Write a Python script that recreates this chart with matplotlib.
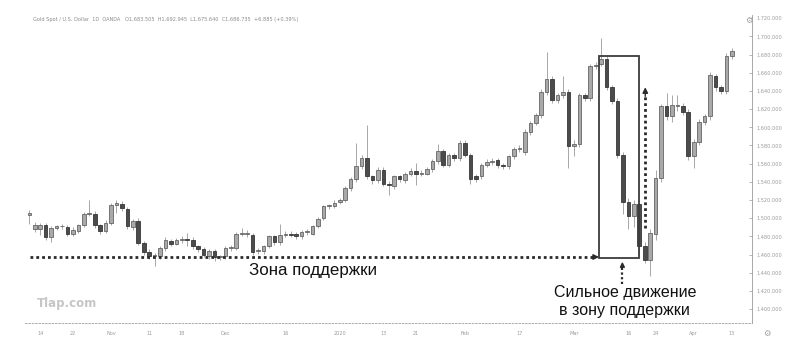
import matplotlib.pyplot as plt
from matplotlib.patches import Rectangle

# daily candles (price units)
opens = [1503, 1488, 1488, 1492, 1479, 1489, 1491, 1490, 1483, 1486,
         1492, 1505, 1505, 1492, 1486, 1495, 1515, 1516, 1510, 1490,
         1497, 1473, 1463, 1458, 1458, 1467, 1475, 1472, 1476, 1477,
         1476, 1469, 1466, 1458, 1464, 1457, 1458, 1467, 1467, 1483,
         1483, 1482, 1464, 1464, 1469, 1480, 1474, 1482, 1483, 1483,
         1480, 1485, 1483, 1491, 1500, 1513, 1513, 1518, 1520, 1533,
         1543, 1557, 1566, 1546, 1542, 1553, 1538, 1535, 1546, 1542,
         1549, 1552, 1549, 1549, 1554, 1563, 1574, 1559, 1569, 1566,
         1583, 1570, 1546, 1546, 1559, 1562, 1564, 1558, 1557, 1568,
         1576, 1573, 1595, 1605, 1613, 1639, 1653, 1630, 1635, 1639,
         1579, 1582, 1635, 1632, 1667, 1670, 1675, 1644, 1629, 1570,
         1518, 1502, 1516, 1469, 1454, 1483, 1544, 1623, 1612, 1623,
         1623, 1617, 1568, 1584, 1606, 1612, 1656, 1644, 1640, 1678]
closes = [1506, 1492, 1492, 1479, 1489, 1491, 1491, 1483, 1487, 1492,
          1505, 1506, 1492, 1486, 1495, 1514, 1517, 1511, 1491, 1497,
          1473, 1463, 1458, 1459, 1467, 1476, 1472, 1476, 1477, 1476,
          1469, 1466, 1460, 1464, 1457, 1458, 1467, 1468, 1483, 1484,
          1483, 1463, 1465, 1469, 1480, 1474, 1482, 1483, 1482, 1480,
          1485, 1486, 1491, 1499, 1513, 1514, 1517, 1520, 1533, 1543,
          1557, 1566, 1546, 1542, 1553, 1538, 1536, 1546, 1543, 1549,
          1552, 1549, 1550, 1554, 1563, 1574, 1559, 1570, 1566, 1583,
          1570, 1543, 1543, 1559, 1562, 1563, 1558, 1557, 1568, 1576,
          1577, 1595, 1605, 1613, 1639, 1653, 1630, 1635, 1639, 1579,
          1582, 1635, 1632, 1667, 1668, 1675, 1644, 1629, 1570, 1518,
          1502, 1516, 1469, 1454, 1484, 1544, 1623, 1612, 1625, 1625,
          1617, 1568, 1584, 1606, 1612, 1658, 1644, 1640, 1678, 1684]
highs = [1509, 1496, 1495, 1495, 1491, 1493, 1494, 1493, 1490, 1494,
         1507, 1520, 1508, 1494, 1498, 1517, 1520, 1519, 1512, 1499,
         1500, 1475, 1466, 1462, 1469, 1479, 1477, 1478, 1480, 1484,
         1479, 1471, 1468, 1466, 1466, 1460, 1469, 1470, 1485, 1489,
         1487, 1484, 1467, 1471, 1482, 1482, 1494, 1486, 1486, 1485,
         1487, 1488, 1493, 1501, 1515, 1516, 1520, 1522, 1535, 1545,
         1583, 1569, 1603, 1548, 1556, 1556, 1541, 1548, 1548, 1551,
         1555, 1561, 1553, 1556, 1565, 1582, 1576, 1572, 1572, 1586,
         1586, 1572, 1549, 1561, 1565, 1566, 1566, 1561, 1570, 1578,
         1580, 1598, 1607, 1616, 1642, 1683, 1656, 1638, 1656, 1642,
         1586, 1638, 1638, 1670, 1672, 1698, 1678, 1647, 1632, 1573,
         1522, 1520, 1520, 1474, 1488, 1553, 1626, 1638, 1636, 1636,
         1627, 1620, 1587, 1609, 1615, 1661, 1659, 1647, 1682, 1687]
lows = [1494, 1485, 1481, 1476, 1474, 1487, 1488, 1480, 1480, 1484,
        1490, 1502, 1489, 1483, 1484, 1493, 1506, 1508, 1488, 1487,
        1470, 1460, 1455, 1447, 1455, 1464, 1469, 1470, 1473, 1469,
        1466, 1463, 1457, 1455, 1453, 1454, 1455, 1464, 1465, 1480,
        1479, 1460, 1461, 1461, 1467, 1471, 1471, 1479, 1479, 1477,
        1477, 1482, 1481, 1489, 1498, 1510, 1511, 1516, 1518, 1530,
        1540, 1554, 1543, 1538, 1539, 1535, 1526, 1532, 1540, 1539,
        1546, 1536, 1546, 1547, 1551, 1560, 1556, 1556, 1563, 1563,
        1567, 1538, 1540, 1543, 1556, 1559, 1555, 1554, 1554, 1565,
        1573, 1570, 1592, 1602, 1610, 1636, 1627, 1627, 1632, 1555,
        1568, 1578, 1629, 1629, 1664, 1667, 1641, 1626, 1566, 1505,
        1488, 1490, 1460, 1451, 1436, 1476, 1540, 1608, 1606, 1618,
        1614, 1564, 1555, 1580, 1603, 1608, 1640, 1637, 1637, 1675]

# date labels under the candles (candle index, text)
date_pos = [2, 8, 15, 22, 28, 36, 47, 57, 65, 71, 80, 90, 100, 110, 115, 122, 129]
date_lbl = ['14', '22', 'Nov', '11', '18', 'Dec', '16', '2020', '13', '21',
            'Feb', '17', 'Mar', '16', '24', 'Apr', '13']
price_ticks = list(range(1400, 1721, 20))

W, H = 805, 346
fig = plt.figure(figsize=(W / 100, H / 100), dpi=100)
ax = fig.add_axes([25 / W, 1 - 323 / H, (752 - 25) / W, 308 / H])

idx = list(range(len(opens)))
up = [c >= o for o, c in zip(opens, closes)]
body_bot = [min(o, c) for o, c in zip(opens, closes)]
body_h = [max(abs(c - o), 0.8) for o, c in zip(opens, closes)]
face = ['#a9a9a9' if u else '#4c4c4c' for u in up]
edge = ['#666666' if u else '#363636' for u in up]

ax.vlines(idx, lows, highs, color='#999999', lw=0.6, zorder=1)
ax.bar(idx, body_h, bottom=body_bot, width=0.66, color=face,
       edgecolor=edge, linewidth=0.6, zorder=2)

ax.set_xlim(-0.8, 132.7)
ax.set_ylim(1384.7, 1723.5)

ax.yaxis.tick_right()
ax.set_yticks(price_ticks)
ax.set_yticklabels([f'{p:,.3f}' for p in price_ticks])
ax.set_xticks(date_pos)
ax.set_xticklabels(date_lbl)
ax.tick_params(axis='y', labelsize=3.6, colors='#9a9a9a', length=2, width=0.5,
               pad=3, direction='in')
ax.tick_params(axis='x', labelsize=3.6, colors='#9a9a9a', length=0, pad=6)
for s in ['top', 'left']:
    ax.spines[s].set_visible(False)
ax.spines['right'].set_color('#9a9a9a')
ax.spines['right'].set_linewidth(0.6)
ax.spines['bottom'].set_color('#a0a0a0')
ax.spines['bottom'].set_linewidth(0.6)
ax.spines['bottom'].set_linestyle((0, (2, 2)))

# annotations
dot = (0, (1, 1.1))
ax.add_patch(Rectangle((104.6, 1456.5), 7.4, 222, fill=False,
                       edgecolor='#3c3c3c', lw=1.3, zorder=3))
ax.plot([0.1, 103.6], [1457.3, 1457.3], color='#2a2a2a', lw=2.0, ls=dot, zorder=3)
ax.annotate('', xy=(104.6, 1457.3), xytext=(103.4, 1457.3),
            arrowprops=dict(arrowstyle='-|>', color='#2a2a2a', lw=1,
                            mutation_scale=8, shrinkA=0, shrinkB=0))
ax.plot([113.1, 113.1], [1489, 1636], color='#2a2a2a', lw=2.0, ls=dot, zorder=3)
ax.annotate('', xy=(113.1, 1644), xytext=(113.1, 1634),
            arrowprops=dict(arrowstyle='-|>', color='#2a2a2a', lw=1,
                            mutation_scale=8, shrinkA=0, shrinkB=0))
ax.plot([108.9, 108.9], [1428, 1446], color='#2a2a2a', lw=1.6, ls=dot, zorder=3)
ax.annotate('', xy=(108.9, 1452), xytext=(108.9, 1445),
            arrowprops=dict(arrowstyle='-|>', color='#2a2a2a', lw=1,
                            mutation_scale=7, shrinkA=0, shrinkB=0))

font = ['Liberation Sans', 'DejaVu Sans']
fig.text(313 / W, 1 - 271 / H, 'Зона поддержки', ha='center', va='center',
         fontsize=12.2, family=font, color='#111111')
fig.text(625 / W, 1 - 293 / H, 'Сильное движение', ha='center', va='center',
         fontsize=11.5, family=font, color='#111111')
fig.text(624 / W, 1 - 311 / H, 'в зону поддержки', ha='center', va='center',
         fontsize=11.5, family=font, color='#111111')
fig.text(37 / W, 1 - 303 / H, 'Tlap.com', ha='left', va='center',
         fontsize=8.5, family='DejaVu Sans', weight='bold', color='#c6c6c6')
fig.text(33 / W, 1 - 19 / H,
         'Gold Spot / U.S. Dollar  1D  OANDA   O1,683.505  H1,692.945  '
         'L1,675.640  C1,686.735  +6.885 (+0.39%)',
         ha='left', va='center', fontsize=3.6, color='#8a8a8a')
fig.text(749 / W, 1 - 20 / H, '⚙', ha='center', va='center', fontsize=6,
         family='DejaVu Sans', color='#a0a0a0')
fig.text(767 / W, 1 - 333 / H, '⚙', ha='center', va='center', fontsize=6,
         family='DejaVu Sans', color='#a0a0a0')

fig.savefig('out.png', dpi=100, facecolor='white')
